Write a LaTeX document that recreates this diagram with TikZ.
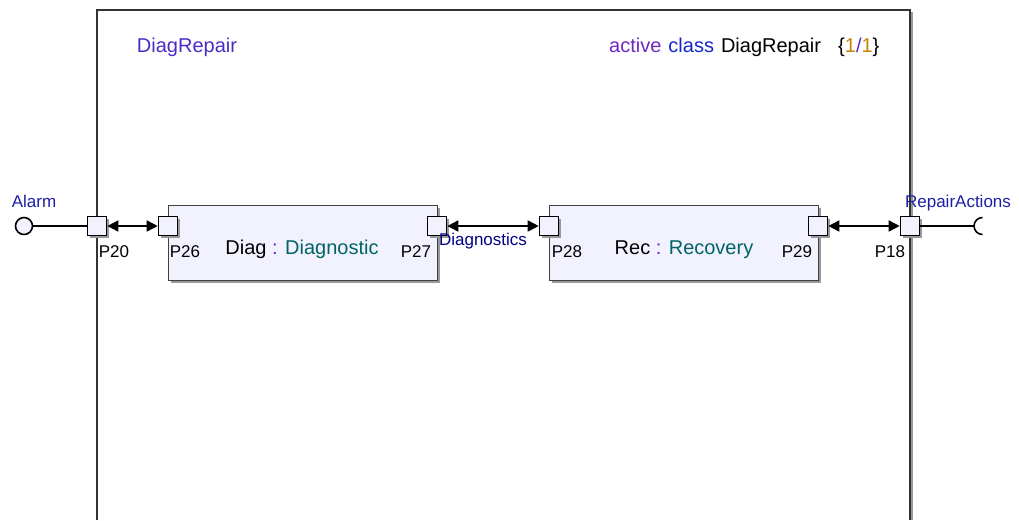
\documentclass[tikz,border=0pt]{standalone}
\usepackage{fontspec}
\setmainfont{Liberation Sans}
\usetikzlibrary{arrows.meta,positioning,calc}
\definecolor{boxfill}{RGB}{242,242,255}
\definecolor{capsname}{RGB}{75,45,195}
\definecolor{kwactive}{RGB}{110,40,195}
\definecolor{kwclass}{RGB}{20,40,200}
\definecolor{multcol}{RGB}{200,130,0}
\definecolor{typecol}{RGB}{0,100,100}
\definecolor{coloncol}{RGB}{90,40,200}
\definecolor{portname}{RGB}{30,30,165}
\definecolor{connname}{RGB}{0,0,130}
\tikzset{
  partbox/.style={draw=black!75, fill=boxfill, minimum width=269pt, minimum height=75pt,
                  inner sep=0pt, preaction={fill=black!40, transform canvas={shift={(2.5pt,-2.5pt)}}}},
  portbox/.style={draw=black, fill=boxfill, minimum size=19pt, inner sep=0pt, line width=1.6pt,
                  preaction={fill=black!40, transform canvas={shift={(2pt,-2pt)}}}},
  plbl/.style={font=\fontsize{17}{17}\selectfont, inner sep=0pt, anchor=base},
  namelbl/.style={font=\fontsize{20}{20}\selectfont, inner sep=0pt, anchor=base},
  flow/.style={{Triangle[length=11pt,width=11pt]}-{Triangle[length=11pt,width=11pt]}, line width=1.6pt},
  wire/.style={line width=1.6pt},
}
\begin{document}
\begin{tikzpicture}[x=1pt, y=-1pt]
  \useasboundingbox (0,0) rectangle (1019,520);
  \draw[black!40, line width=1.5pt] (912,12) -- (912,520);
  \draw[black!80, line width=1.2pt] (97,520) -- (97,10) -- (910,10) -- (910,520);
  \node[namelbl, text=capsname] (title) at (187,52) {DiagRepair};
  \node[namelbl, anchor=base west] (header) at (609,52)
    {\textcolor{kwactive}{active}\hspace{7pt}\textcolor{kwclass}{class}\hspace{7pt}DiagRepair};
  \node[namelbl, anchor=base west] (mult) at (838,52)
    {\{\textcolor{multcol}{1}\textcolor{coloncol}{/}\textcolor{multcol}{1}\}};

  \node[partbox] (diag) at (302.5,242.5) {};
  \node[partbox] (rec) at (683.5,242.5) {};
  \node[namelbl] (diaglbl) at (302,254) {Diag \textcolor{coloncol}{:} \textcolor{typecol}{Diagnostic}};
  \node[namelbl] (reclbl) at (684,254) {Rec \textcolor{coloncol}{:} \textcolor{typecol}{Recovery}};

  \node[portbox] (p20) at (97,226) {};
  \node[portbox] (p26) at (168,226) {};
  \node[portbox] (p27) at (437,226) {};
  \node[portbox] (p28) at (549,226) {};
  \node[portbox] (p29) at (818,226) {};
  \node[portbox] (p18) at (910,226) {};
  \node[plbl] (p20lbl) at (114,257) {P20};
  \node[plbl] (p26lbl) at (185,257) {P26};
  \node[plbl] (p27lbl) at (416,257) {P27};
  \node[plbl] (p28lbl) at (567,257) {P28};
  \node[plbl] (p29lbl) at (797,257) {P29};
  \node[plbl] (p18lbl) at (890,257) {P18};

  \node[draw=black, fill=boxfill, circle, minimum size=17pt, inner sep=0pt, line width=1.6pt] (alarm) at (24,226) {};
  \node[plbl, text=portname] (alarmlbl) at (34,207) {Alarm};
  \coordinate (repair) at (974,226);
  \node[plbl, text=portname] (repairlbl) at (958,207) {RepairActions};

  \draw[wire] (alarm) -- (p20);
  \draw[flow] (p20) -- (p26);
  \draw[flow] (p27) -- (p28);
  \draw[flow] (p29) -- (p18);
  \draw[wire] (p18) -- (repair);
  \draw[line width=1.6pt] ($(repair)+(8.5,-8.5)$) arc[start angle=270, end angle=90, radius=8.5];
  \node[plbl, text=connname] (diaglink) at (483,245) {Diagnostics};
\end{tikzpicture}
\end{document}
